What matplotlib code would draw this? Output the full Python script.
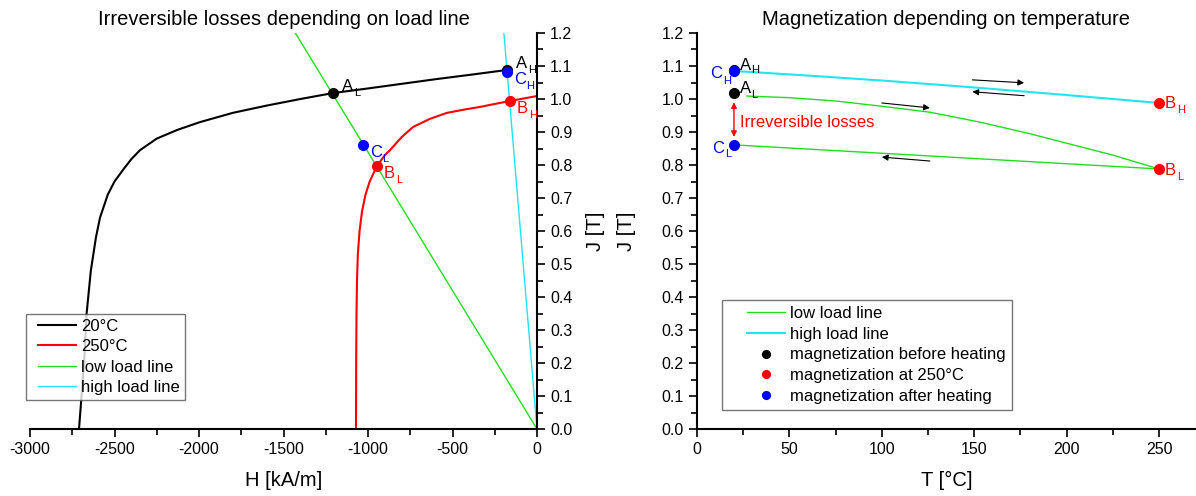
import numpy as np
import matplotlib.pyplot as plt
from matplotlib.ticker import MultipleLocator

plt.rcParams['font.family'] = ['Liberation Sans', 'DejaVu Sans']
plt.rcParams['axes.unicode_minus'] = False

# --- left panel data: J(H) curves ---
h_20 = [-2710, -2695, -2680, -2665, -2640, -2610, -2586, -2540, -2500, -2450, -2400,
        -2349, -2250, -2130, -1994, -1800, -1600, -1400, -1207, -1000, -800, -600, -400, -178]
j_20 = [0.0, 0.1, 0.2, 0.35, 0.48, 0.58, 0.64, 0.71, 0.75, 0.785, 0.818,
        0.845, 0.88, 0.906, 0.93, 0.958, 0.98, 1.0, 1.018, 1.032, 1.046, 1.06, 1.073, 1.088]

h_250 = [-1071, -1070, -1068, -1065, -1060, -1050, -1035, -1015, -990, -947,
         -900, -870, -800, -734, -633, -533, -430, -337, -250, -160, 0]
j_250 = [0.0, 0.2, 0.35, 0.45, 0.53, 0.6, 0.66, 0.71, 0.75, 0.797,
         0.83, 0.845, 0.885, 0.915, 0.94, 0.958, 0.968, 0.976, 0.985, 0.994, 1.009]

h_low = [0, -1430]
j_low = [0.0, 1.2]
h_high = [0, -196]
j_high = [0.0, 1.2]

# marked points: letter, subscript, H, J, colour
pts_left = [
    ('A', 'L', -1207, 1.018, 'black'), ('A', 'H', -178, 1.088, 'black'),
    ('C', 'H', -175, 1.083, 'blue'), ('B', 'H', -160, 0.994, 'red'),
    ('C', 'L', -1030, 0.862, 'blue'), ('B', 'L', -947, 0.797, 'red'),
]

# --- right panel data: J(T) ---
t_high = [20, 60, 100, 150, 200, 250]
j_high_t = [1.085, 1.071, 1.056, 1.035, 1.012, 0.988]
t_low_up = [27, 50, 75, 100, 126, 153, 180, 200, 225, 250]
j_low_up = [1.009, 1.004, 0.994, 0.978, 0.960, 0.930, 0.895, 0.866, 0.830, 0.788]
t_low_down = [20, 250]
j_low_down = [0.861, 0.788]

t_before = [20, 20]
j_before = [1.088, 1.018]
t_at250 = [250, 250]
j_at250 = [0.988, 0.788]
t_after = [20, 20]
j_after = [1.085, 0.861]

green = '#22dd22'
cyan = '#22e5f0'

fig = plt.figure(figsize=(11.96, 4.96), dpi=100)


def point_label(ax, letter, sub, x, y, c, dx, dy, sdx, sdy):
    # offsets in pixels, text placed by its baseline
    ax.annotate(letter, (x, y), xytext=(dx, dy), textcoords='offset pixels',
                color=c, fontsize=12, va='baseline', ha='left')
    ax.annotate(sub, (x, y), xytext=(sdx, sdy), textcoords='offset pixels',
                color=c, fontsize=8, va='baseline', ha='left')


def trim_handles(leg, trim):
    # start legend lines a bit right of the handle box (like the original)
    for ln in leg.get_lines():
        x = np.asarray(ln.get_xdata(), dtype=float)
        ln.set_xdata(np.linspace(x[0] + trim, x[-1], len(x)))


# ================= left panel =================
ax1 = fig.add_axes([30/1196, 1-429/496, 507/1196, 396/496])
ax1.plot(h_20, j_20, color='black', lw=1.5, label='20°C')
ax1.plot(h_250, j_250, color='red', lw=1.5, label='250°C')
ax1.plot(h_low, j_low, color=green, lw=1.0, label='low load line')
ax1.plot(h_high, j_high, color=cyan, lw=1.0, label='high load line')

for letter, sub, x, y, c in pts_left:
    ax1.plot(x, y, 'o', color=c, ms=7, zorder=5)
    if letter == 'A':
        point_label(ax1, letter, sub, x, y, c, 9, 2, 21, -3)
    else:
        point_label(ax1, letter, sub, x, y, c, 7, -12, 19, -17)

ax1.set_xlim(-3000, 0)
ax1.set_ylim(0, 1.2)
ax1.spines['left'].set_visible(False)
ax1.spines['top'].set_visible(False)
ax1.spines['right'].set_position(('data', 0))
ax1.yaxis.tick_right()
ax1.yaxis.set_label_position('right')
ax1.xaxis.set_major_locator(MultipleLocator(500))
ax1.xaxis.set_minor_locator(MultipleLocator(250))
ax1.yaxis.set_major_locator(MultipleLocator(0.1))
ax1.yaxis.set_minor_locator(MultipleLocator(0.05))
ax1.yaxis.set_major_formatter(plt.FormatStrFormatter('%.1f'))
ax1.tick_params(which='both', direction='out', width=1.2, labelsize=11.5)
ax1.tick_params(which='major', length=6)
ax1.tick_params(which='minor', length=4)
for s in ['bottom', 'right']:
    ax1.spines[s].set_linewidth(1.5)
ax1.set_xlabel('H [kA/m]', fontsize=14.5, labelpad=10)
ax1.set_ylabel('J [T]', fontsize=14.5, labelpad=10)
ax1.set_title('Irreversible losses depending on load line', fontsize=14.5, pad=6)
leg1 = ax1.legend(loc='lower left', bbox_to_anchor=(-0.008, 0.073), fontsize=12,
                  frameon=True, fancybox=False, edgecolor='#555555', borderaxespad=0,
                  handlelength=2.7, handletextpad=0.3, borderpad=0.3,
                  labelspacing=0.33)
leg1.get_frame().set_linewidth(1.0)
trim_handles(leg1, 4.8)

# ================= right panel =================
ax2 = fig.add_axes([697/1196, 1-429/496, 499/1196, 396/496])
ax2.plot(t_low_up, j_low_up, color=green, lw=1.0, label='low load line')
ax2.plot(t_low_down, j_low_down, color=green, lw=1.0)
ax2.plot(t_high, j_high_t, color=cyan, lw=1.5, label='high load line')
ax2.plot(t_before, j_before, 'o', color='black', ms=7, ls='none', zorder=5,
         label='magnetization before heating')
ax2.plot(t_at250, j_at250, 'o', color='red', ms=7, ls='none', zorder=5,
         label='magnetization at 250°C')
ax2.plot(t_after, j_after, 'o', color='blue', ms=7, ls='none', zorder=6,
         label='magnetization after heating')

# point labels on the right panel
point_label(ax2, 'A', 'H', 20, 1.088, 'black', 6, 0, 17, -3)
point_label(ax2, 'A', 'L', 20, 1.018, 'black', 6, 0, 17, -5)
point_label(ax2, 'C', 'H', 20, 1.085, 'blue', -24, -7, -11, -13)
point_label(ax2, 'C', 'L', 20, 0.861, 'blue', -22, -8, -9, -12)
point_label(ax2, 'B', 'H', 250, 0.988, 'red', 6, -5, 18, -10)
point_label(ax2, 'B', 'L', 250, 0.788, 'red', 6, -6, 18, -11)

# irreversible losses arrow
ax2.annotate('', xy=(20, 0.99), xytext=(20, 0.885),
             arrowprops=dict(arrowstyle='<|-|>', color='red', lw=1.0,
                             mutation_scale=8, shrinkA=0, shrinkB=0))
ax2.text(23, 0.928, 'Irreversible losses', color='red', fontsize=12, va='center')

# direction arrows
arr = dict(arrowstyle='-|>', color='black', lw=0.8, mutation_scale=9, shrinkA=0, shrinkB=0)
ax2.annotate('', xy=(126, 0.973), xytext=(100, 0.988), arrowprops=arr)
ax2.annotate('', xy=(100, 0.824), xytext=(126, 0.812), arrowprops=arr)
ax2.annotate('', xy=(177, 1.049), xytext=(149, 1.058), arrowprops=arr)
ax2.annotate('', xy=(149, 1.022), xytext=(177, 1.010), arrowprops=arr)

ax2.set_xlim(0, 270)
ax2.set_ylim(0, 1.2)
ax2.spines['right'].set_visible(False)
ax2.spines['top'].set_visible(False)
ax2.xaxis.set_major_locator(MultipleLocator(50))
ax2.xaxis.set_minor_locator(MultipleLocator(25))
ax2.yaxis.set_major_locator(MultipleLocator(0.1))
ax2.yaxis.set_minor_locator(MultipleLocator(0.05))
ax2.yaxis.set_major_formatter(plt.FormatStrFormatter('%.1f'))
ax2.tick_params(which='both', direction='out', width=1.2, labelsize=11.5)
ax2.tick_params(which='major', length=6)
ax2.tick_params(which='minor', length=4)
for s in ['bottom', 'left']:
    ax2.spines[s].set_linewidth(1.5)
ax2.set_xlabel('T [°C]', fontsize=14.5, labelpad=10)
ax2.set_ylabel('J [T]', fontsize=14.5, labelpad=18)
ax2.set_title('Magnetization depending on temperature', fontsize=14.5, pad=6)
leg2 = ax2.legend(loc='lower left', bbox_to_anchor=(0.05, 0.048), fontsize=12,
                  frameon=True, fancybox=False, edgecolor='#555555', borderaxespad=0,
                  handlelength=3.4, handletextpad=0.3, borderpad=0.37,
                  labelspacing=0.34, markerscale=0.8)
leg2.get_frame().set_linewidth(1.0)
trim_handles(leg2, 13.3)

fig.savefig('out.png', dpi=100)
